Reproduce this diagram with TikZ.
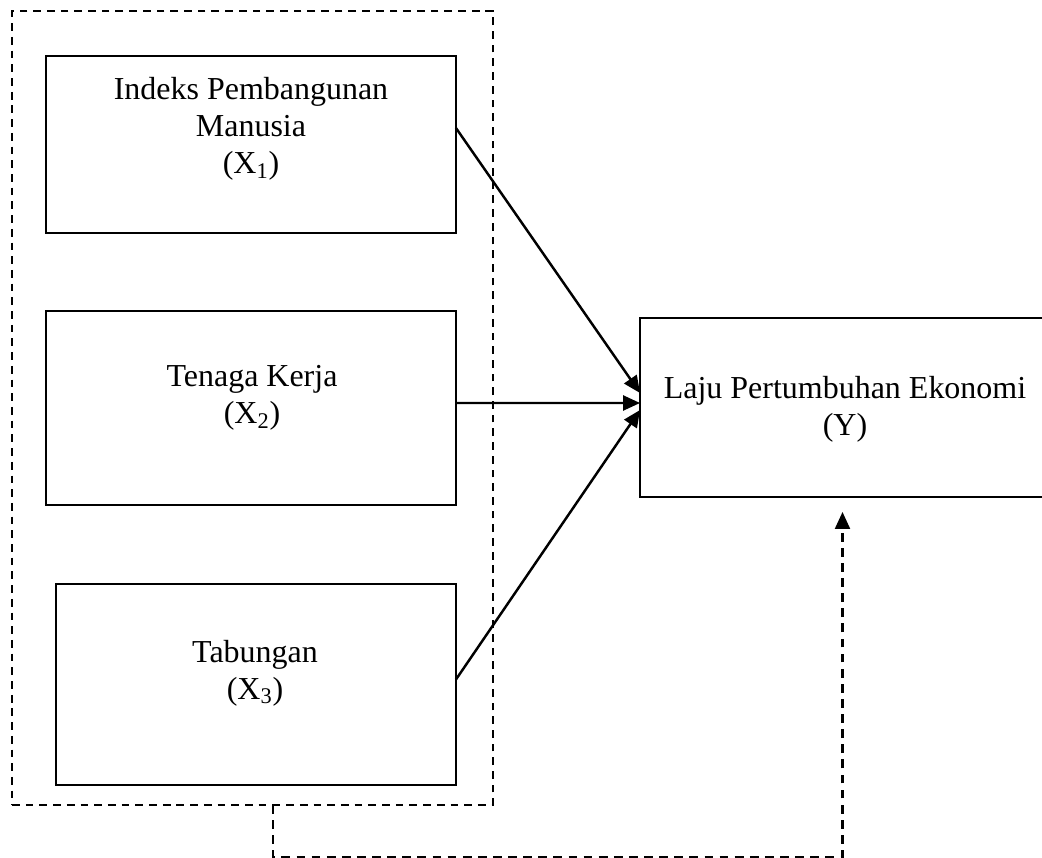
\documentclass[tikz,border=0pt]{standalone}
\usepackage{fontspec}
\setmainfont{Liberation Serif}
\usetikzlibrary{positioning,arrows.meta}

\begin{document}
\begin{tikzpicture}[
    x=0.02cm, y=-0.02cm,
    box/.style={draw, line width=1pt, inner sep=0pt, outer sep=0pt},
    lbl/.style={align=center, inner sep=0pt, font=\fontsize{18.2}{21.1}\selectfont},
    grpbox/.style={draw, line width=0.95pt, dash pattern=on 4.4pt off 3.4pt,
                   inner sep=0pt, outer sep=0pt},
    arr/.style={-{Triangle[length=0.34cm, width=0.3cm]}, line width=1.4pt},
    dlink/.style={-{Triangle[length=0.34cm, width=0.3cm]}, line width=1.2pt,
                  dash pattern=on 5pt off 3.6pt}
  ]
  \useasboundingbox (0,0) rectangle (1042,858);
  \clip (0,0) rectangle (1042,858);

  % grouping of the independent variables
  \node[grpbox, minimum width=9.62cm, minimum height=15.88cm] (grp) at (252.5,408) {};

  % independent variables
  \node[box, minimum width=8.2cm, minimum height=3.54cm] (x1) at (251,144.5) {};
  \node[lbl] (t1) at (251,129) {Indeks Pembangunan\\Manusia\\(X\textsubscript{1})};

  \node[box, minimum width=8.2cm, minimum height=3.88cm] (x2) at (251,408) {};
  \node[lbl] (t2) at (252,398) {Tenaga Kerja\\(X\textsubscript{2})};

  \node[box, minimum width=8.0cm, minimum height=4.02cm] (x3) at (256,684.5) {};
  \node[lbl] (t3) at (255,673) {Tabungan\\(X\textsubscript{3})};

  % dependent variable
  \node[box, minimum width=8.1cm, minimum height=3.58cm] (y) at (842.5,407.5) {};
  \node[lbl] (ty) at (845,409) {Laju Pertumbuhan Ekonomi\\(Y)};

  % arrows
  \draw[arr] ([yshift=0.33cm]x1.east) -- ([yshift=0.29cm]y.west);
  \draw[arr] ([yshift=0.1cm]x2.east) -- ([yshift=0.09cm]y.west);
  \draw[arr] ([yshift=0.1cm]x3.east) -- ([yshift=-0.05cm]y.west);

  % joint effect
  \draw[dlink] ([xshift=0.41cm]grp.south) -- ++(0,52) -| ([yshift=-0.3cm]y.south);
\end{tikzpicture}
\end{document}
